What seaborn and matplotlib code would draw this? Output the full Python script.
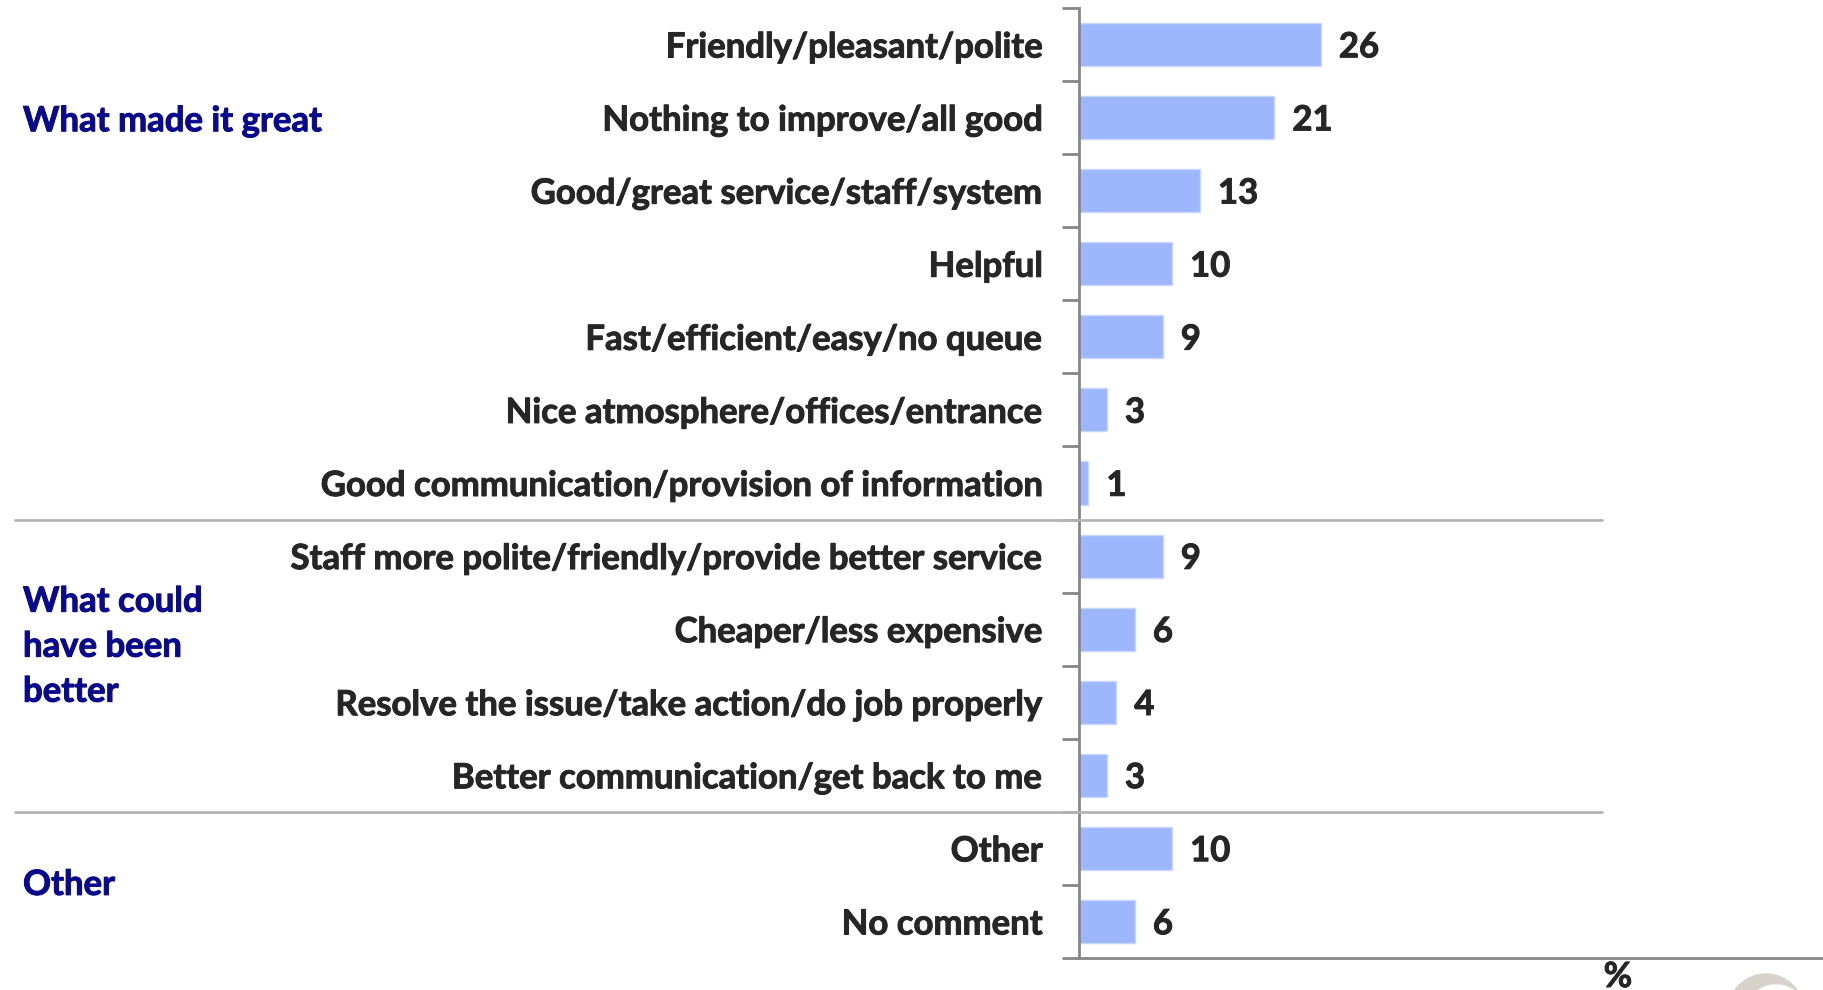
import matplotlib
matplotlib.use("Agg")
import matplotlib.pyplot as plt
import matplotlib.transforms as mtransforms
import matplotlib.patheffects as pe
from matplotlib.lines import Line2D
from matplotlib.patches import Ellipse
import pandas as pd
import seaborn as sns

# Survey responses (% of respondents)
categories = [
    "Friendly/pleasant/polite",
    "Nothing to improve/all good",
    "Good/great service/staff/system",
    "Helpful",
    "Fast/efficient/easy/no queue",
    "Nice atmosphere/offices/entrance",
    "Good communication/provision of information",
    "Staff more polite/friendly/provide better service",
    "Cheaper/less expensive",
    "Resolve the issue/take action/do job properly",
    "Better communication/get back to me",
    "Other",
    "No comment",
]
values = [26, 21, 13, 10, 9, 3, 1, 9, 6, 4, 3, 10, 6]

group_names = ["What made it great", "What could\nhave been\nbetter", "Other"]
group_positions = [1.05, 8.24, 11.5]
group_breaks = [6.5, 10.5]

BAR = "#9DB6FD"
TEXT = "#262626"
GROUP = "#0A0A8C"
AXIS = "#868686"
SEP = "#B4B4B4"
FONT = "Lato"
FS = 25


def heavy(color):
    # thicken the glyph strokes slightly
    return [pe.withStroke(linewidth=0.7, foreground=color)]


sns.set_theme(style="white")
plt.rcParams["font.family"] = [FONT, "DejaVu Sans"]

df = pd.DataFrame({"category": categories, "pct": values})

fig = plt.figure(figsize=(18.23, 9.9), dpi=100)
ax = fig.add_axes([1079 / 1823, 32 / 990, 744 / 1823, 950 / 990])

sns.barplot(data=df, x="pct", y="category", orient="h", color=BAR,
            width=0.59, saturation=1, edgecolor="#C9D7FE", linewidth=1, ax=ax)

ax.set_xlim(0, 80)
ax.set_ylim(len(categories) - 0.5, -0.5)
ax.set_xlabel("")
ax.set_ylabel("")
ax.set_xticks([])

# category labels at bar centres, boundary ticks between them
ax.set_yticks(range(len(categories)))
ax.set_yticklabels(categories, fontsize=FS, fontweight="bold", color=TEXT)
for lab in ax.get_yticklabels():
    lab.set_path_effects(heavy(TEXT))
ax.tick_params(axis="y", which="major", length=0, pad=26)
ax.set_yticks([i - 0.5 for i in range(len(categories) + 1)], minor=True)
ax.tick_params(axis="y", which="minor", length=12, width=2, color=AXIS,
               direction="out", left=True)

for side in ["top", "right"]:
    ax.spines[side].set_visible(False)
for side in ["left", "bottom"]:
    ax.spines[side].set_color(AXIS)
    ax.spines[side].set_linewidth(2)

# value labels
for i, v in enumerate(values):
    ax.annotate(str(v), xy=(v, i), xytext=(13, -2), textcoords="offset points",
                ha="left", va="center", fontsize=FS, fontweight="bold",
                color=TEXT, path_effects=heavy(TEXT))

# group separators and group names
blend = mtransforms.blended_transform_factory(fig.transFigure, ax.transData)
for yb in group_breaks:
    fig.add_artist(Line2D([15 / 1823, 1602 / 1823], [yb, yb], transform=blend,
                          color=SEP, linewidth=2, clip_on=False))
for name, yp in zip(group_names, group_positions):
    fig.text(23 / 1823, yp, name, transform=blend, ha="left", va="center",
             fontsize=FS, fontweight="bold", color=GROUP, linespacing=1.5,
             path_effects=heavy(GROUP))

fig.text(1618 / 1823, 1 - 977 / 990, "%", ha="center", va="center",
         fontsize=FS, fontweight="bold", color=TEXT, path_effects=heavy(TEXT))

# partial logo mark in the lower right corner
fig.add_artist(Ellipse((1766 / 1823, 1 - 1012 / 990), 76 / 1823, 76 / 990,
                       transform=fig.transFigure, color="#D8D2CC", clip_on=False))
fig.add_artist(Ellipse((1776 / 1823, 1 - 1018 / 990), 66 / 1823, 66 / 990,
                       transform=fig.transFigure, color="white", clip_on=False))

fig.savefig("out.png", dpi=100, facecolor="white")
